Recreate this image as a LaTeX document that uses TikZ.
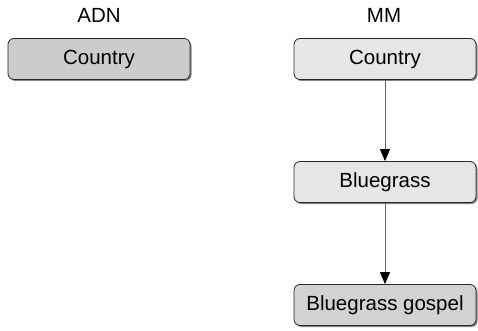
\documentclass[tikz,border=0pt]{standalone}
\usepackage{fontspec}
\setmainfont{Liberation Sans}
\usepackage{xcolor}
\usetikzlibrary{arrows.meta,shadows}

\definecolor{boxdark}{HTML}{CCCCCC}
\definecolor{boxlight}{HTML}{E6E6E6}
\definecolor{boxmid}{HTML}{D2D2D2}

\begin{document}
\begin{tikzpicture}[x=1pt, y=-1pt,
    genre/.style={draw=black!85, rounded corners=6pt, minimum width=182pt, minimum height=41pt,
        font=\fontsize{20.5}{24}\selectfont, line width=0.8pt,
        drop shadow={shadow xshift=1.5pt, shadow yshift=-1.5pt, fill=black!60, opacity=0.8}},
    head/.style={font=\fontsize{20.5}{24}\selectfont},
    link/.style={draw=black!60, line width=0.8pt, -{Triangle[length=12pt,width=10pt,color=black]}}]
    \useasboundingbox (0,0) rectangle (478,331);
    \node[head] (adn) at (99,15) {ADN};
    \node[head] (mm) at (384,15) {MM};
    \node[genre, fill=boxdark] (adncountry) at (99,59) {Country};
    \node[genre, fill=boxlight] (mmcountry) at (385,59) {Country};
    \node[genre, fill=boxlight] (bluegrass) at (385,182) {Bluegrass};
    \node[genre, fill=boxmid] (gospel) at (385,305) {Bluegrass gospel};
    \draw[link] (mmcountry) -- (bluegrass);
    \draw[link] (bluegrass) -- (gospel);
\end{tikzpicture}
\end{document}
